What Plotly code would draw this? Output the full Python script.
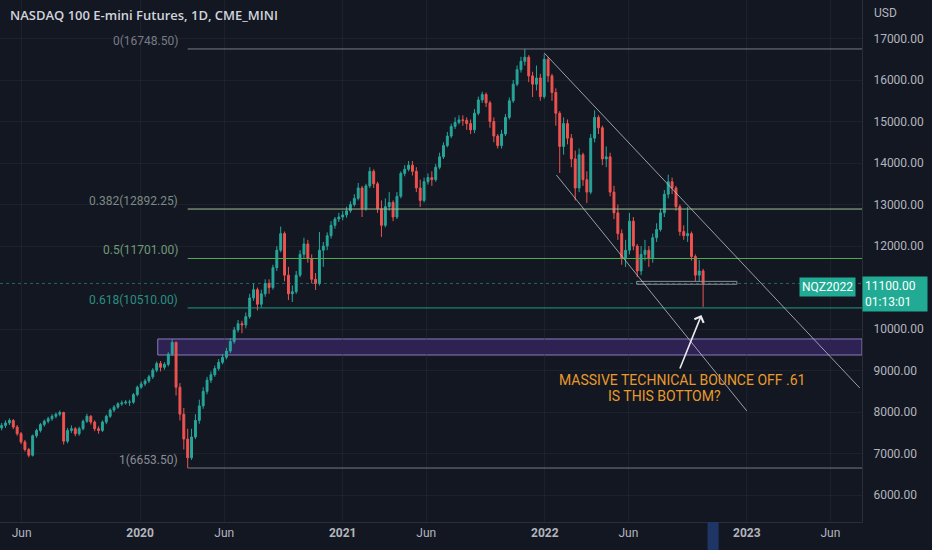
import pandas as pd
import plotly.graph_objects as go

# weekly bars (NQ continuous, CME_MINI)
first_open = 7620
closes = [
    7680, 7740, 7800, 7640, 7480, 7280, 7100, 6960, 7430, 7560,
    7700, 7780, 7840, 7900, 7950, 7990, 7300, 7560, 7600, 7480,
    7600, 7780, 7900, 7760, 7600, 7560, 7760, 7900, 8050, 8120,
    8200, 8220, 8240, 8240, 8420, 8600, 8680, 8750, 8850, 9010,
    9170, 9080, 9150, 9400, 9680, 8600, 7950, 7350, 6900, 7400,
    7800, 8150, 8500, 8770, 8900, 9050, 9200, 9320, 9470, 9700,
    9980, 10130, 10100, 10300, 10750, 10950, 10600, 10850, 11100, 11000,
    11480, 11900, 12300, 11300, 10850, 10900, 11300, 11800, 12050, 11700,
    11200, 11100, 11900, 12000, 12250, 12500, 12650, 12700, 12750, 12850,
    13000, 13150, 13400, 12900, 13450, 13800, 13500, 12900, 12500, 12950,
    13050, 12700, 13200, 13750, 13850, 13950, 13800, 13400, 13100, 13550,
    13650, 13600, 13900, 14150, 14420, 14650, 14880, 14980, 15040, 15030,
    14950, 14800, 15200, 15520, 15650, 15450, 15000, 14650, 14420, 14700,
    15100, 15500, 15900, 16250, 16450, 16550, 16100, 15900, 16050, 15600,
    16500, 16100, 15700, 15200, 14400, 14950, 14600, 14100, 13400, 14200,
    13600, 13300, 14600, 15100, 14850, 14100, 14150, 13300, 12800, 12300,
    11700, 11900, 12600, 12000, 11400, 11800, 11900, 11700, 12200, 12400,
    12800, 13250, 13550, 13400, 12950, 12350, 12250, 12300, 11750, 11300,
    11400, 11100,
]
highs = [
    7740, 7800, 7850, 7830, 7690, 7520, 7330, 7140, 7460, 7600,
    7740, 7820, 7890, 7950, 7990, 8040, 8010, 7620, 7680, 7640,
    7650, 7820, 7960, 7930, 7800, 7660, 7800, 7940, 8090, 8170,
    8240, 8280, 8290, 8300, 8460, 8640, 8740, 8800, 8900, 9060,
    9220, 9230, 9200, 9440, 9760, 9700, 8700, 8100, 7600, 7600,
    7950, 8300, 8600, 8850, 8980, 9120, 9280, 9400, 9550, 9780,
    10050, 10220, 10200, 10400, 10850, 11100, 11000, 10950, 11200, 11200,
    11550, 12000, 12470, 12350, 11500, 11050, 11400, 11900, 12200, 12150,
    11800, 11350, 12340, 12100, 12330, 12600, 12700, 12800, 12850, 12950,
    13080, 13250, 13520, 13450, 13500, 13900, 13850, 13550, 13100, 13150,
    13300, 13100, 13300, 13800, 13950, 14050, 14050, 13900, 13600, 13650,
    13750, 13800, 13980, 14250, 14500, 14750, 14950, 15100, 15150, 15150,
    15100, 15050, 15300, 15600, 15720, 15700, 15500, 15100, 14700, 14800,
    15180, 15580, 16000, 16350, 16560, 16748.5, 16600, 16200, 16350, 16150,
    16620, 16550, 16150, 15800, 15250, 15100, 15050, 14700, 14300, 14350,
    14250, 13800, 14700, 15270, 15150, 14900, 14400, 14250, 13450, 13000,
    12400, 12150, 12800, 12700, 12050, 12000, 12150, 12000, 12300, 12550,
    12900, 13350, 13720, 13650, 13450, 13000, 12500, 12942, 12350, 11800,
    11666, 11450,
]
lows = [
    7560, 7620, 7690, 7590, 7430, 7230, 7050, 6910, 6930, 7380,
    7510, 7650, 7730, 7790, 7850, 7900, 7220, 7250, 7500, 7420,
    7430, 7560, 7740, 7700, 7540, 7480, 7520, 7710, 7860, 8000,
    8080, 8150, 8180, 8150, 8200, 8380, 8560, 8630, 8700, 8800,
    8960, 8980, 9020, 9100, 9350, 8400, 7800, 7100, 6653.5, 6850,
    7350, 7720, 8080, 8430, 8700, 8850, 9000, 9150, 9270, 9420,
    9650, 9920, 9900, 10020, 10250, 10680, 10450, 10520, 10780, 10850,
    10950, 11400, 11850, 11150, 10700, 10654, 10850, 11250, 11700, 11600,
    11100, 10943, 11050, 11500, 11900, 12180, 12420, 12580, 12620, 12680,
    12800, 12950, 13100, 12700, 12850, 13400, 13400, 12800, 12220, 12450,
    12850, 12600, 12650, 13150, 13680, 13800, 13700, 13300, 12942, 13050,
    13480, 13450, 13550, 13850, 14100, 14380, 14600, 14820, 14930, 14900,
    14800, 14700, 14720, 15150, 15450, 15350, 14850, 14500, 14350, 14350,
    14650, 15050, 15450, 15850, 16180, 16350, 15950, 15590, 15750, 15500,
    15550, 15950, 15500, 14900, 13761, 14200, 14450, 13900, 13100, 13300,
    13450, 13039, 13250, 14500, 14700, 13950, 13900, 13200, 12650, 12150,
    11550, 11497, 11800, 11900, 11256, 11300, 11650, 11497, 11600, 12100,
    12350, 12700, 13150, 13250, 12850, 12250, 12150, 12100, 11650, 11150,
    11150, 10534,
]
opens = [first_open] + closes[:-1]
dates = pd.date_range("2019-04-26", periods=len(closes), freq="7D")

# fibonacci retracement levels (from the drawing)
fib_levels = [16748.5, 12892.25, 11701.0, 10510.0, 6653.5]
fib_names = ["0(16748.50)", "0.382(12892.25)", "0.5(11701.00)", "0.618(10510.00)", "1(6653.50)"]
fib_line_colors = ["#787b86", "#9fbf98", "#4caf50", "#1f9c86", "#787b86"]
fib_text_colors = ["#787b86", "#7d8a86", "#6f9a78", "#2b8f80", "#8a8d96"]

last_price = 11100.00
timer = "01:13:01"

x_ticks = ["2019-06-01", "2020-01-01", "2020-06-01", "2021-01-01", "2021-06-01",
           "2022-01-01", "2022-06-01", "2023-01-01", "2023-06-01"]
x_labels = ["Jun", "<b>2020</b>", "Jun", "<b>2021</b>", "Jun", "<b>2022</b>", "Jun", "<b>2023</b>", "Jun"]
# 11000 sits under the last price label
y_ticks = [6000, 7000, 8000, 9000, 10000, 12000, 13000, 14000, 15000, 16000, 17000]

BG = "#131722"
UP, DOWN = "#26a69a", "#ef5350"
TEAL = "#22ab94"

fig = go.Figure(go.Candlestick(
    x=dates, open=opens, high=highs, low=lows, close=closes,
    increasing=dict(line=dict(color=UP, width=1), fillcolor=UP),
    decreasing=dict(line=dict(color=DOWN, width=1), fillcolor=DOWN),
    whiskerwidth=0, showlegend=False, hoverinfo="skip",
))

fib_start = "2020-03-27"
for lvl, name, lc, tc in zip(fib_levels, fib_names, fib_line_colors, fib_text_colors):
    fig.add_shape(type="line", xref="x", yref="y", x0=fib_start, x1="2023-07-28",
                  y0=lvl, y1=lvl, line=dict(color=lc, width=1))
    fig.add_annotation(x=fib_start, y=lvl, xref="x", yref="y", text=name, showarrow=False,
                       xanchor="right", yanchor="middle", xshift=-8, yshift=8,
                       font=dict(color=tc, size=12, family="Roboto"))

# supply zone box
fig.add_shape(type="rect", xref="x", yref="y", x0="2020-02-02", x1="2023-07-28",
              y0=9376, y1=9762, fillcolor="rgba(103,58,183,0.32)",
              line=dict(color="#8c7bc0", width=1), layer="below")

# last price dotted line
fig.add_shape(type="line", xref="paper", yref="y", x0=0, x1=1, y0=last_price, y1=last_price,
              line=dict(color="rgba(38,166,154,0.55)", width=1, dash="dot"))

# small horizontal range box
fig.add_shape(type="rect", xref="x", yref="y", x0="2022-06-16", x1="2022-12-14",
              y0=11080, y1=11150, line=dict(color="#8a8d96", width=1))

# down channel lines
fig.add_shape(type="line", xref="x", yref="y", x0="2021-12-31", y0=16652, x1="2023-07-24", y1=8581,
              line=dict(color="rgba(200,203,212,0.75)", width=1))
fig.add_shape(type="line", xref="x", yref="y", x0="2022-01-22", y0=13712, x1="2023-01-01", y1=8027,
              line=dict(color="rgba(200,203,212,0.75)", width=1))

# arrow + comment
fig.add_annotation(x="2022-10-11", y=10340, ax="2022-09-01", ay=9015, xref="x", yref="y",
                   axref="x", ayref="y", text="", showarrow=True, arrowhead=4,
                   arrowsize=1.2, arrowwidth=1.6, arrowcolor="#e8e9ec")
fig.add_annotation(x="2022-09-05", y=9015, xref="x", yref="y", yshift=-10,
                   text="MASSIVE TECHNICAL BOUNCE OFF .61", showarrow=False,
                   font=dict(color="#e89a2c", size=14, family="Roboto"), xanchor="center")
fig.add_annotation(x="2022-08-05", y=9015, xref="x", yref="y", yshift=-26,
                   text="IS THIS BOTTOM?", showarrow=False,
                   font=dict(color="#e89a2c", size=14, family="Roboto"), xanchor="center")

# symbol + last price labels
fig.add_annotation(x=856 / 862, y=last_price, xref="paper", yref="y", text="NQZ2022",
                   showarrow=False, xanchor="right", yanchor="top", yshift=6,
                   bgcolor=TEAL, borderpad=2, font=dict(color="white", size=12, family="Roboto"))
fig.add_annotation(x=1.0, y=last_price, xref="paper", yref="y",
                   text=f"{last_price:.2f}<br>{timer}", showarrow=False, align="left",
                   xanchor="left", yanchor="top", yshift=7, width=60,
                   bgcolor=TEAL, borderpad=2, font=dict(color="white", size=12, family="Roboto"))

# current bar marker on time scale
fig.add_shape(type="rect", xref="x", yref="paper", x0="2022-10-22", x1="2022-11-11",
              y0=-0.055, y1=0, fillcolor="#1f3566", line=dict(width=0))

fig.add_annotation(x=8 / 862, y=1 - 15 / 522, xref="paper", yref="paper",
                   text="NASDAQ 100 E-mini Futures, 1D, CME_MINI", showarrow=False,
                   xanchor="left", yanchor="middle",
                   font=dict(color="#d1d4dc", size=13, family="Open Sans", weight=600))
fig.add_annotation(x=872 / 862, y=1 - 13 / 522, xref="paper", yref="paper", text="USD",
                   showarrow=False, xanchor="left", yanchor="middle",
                   font=dict(color="#b2b5be", size=12, family="Roboto"))

fig.update_layout(
    width=932, height=550,
    margin=dict(l=0, r=70, t=0, b=28),
    paper_bgcolor=BG, plot_bgcolor=BG,
    font=dict(family="Roboto", color="#b2b5be", size=12),
    xaxis=dict(
        type="date", range=["2019-04-23", "2023-07-28"], rangeslider=dict(visible=False),
        tickvals=x_ticks, ticktext=x_labels, showgrid=True, gridcolor="rgba(42,46,57,0.45)",
        showline=True, linecolor="#2a2e39", zeroline=False, ticks="",
        tickfont=dict(color="#b2b5be", size=12),
    ),
    yaxis=dict(
        side="right", range=[5353, 17928], tickvals=y_ticks, tickformat=".2f",
        showgrid=True, gridcolor="rgba(42,46,57,0.45)", zeroline=False,
        showline=True, linecolor="#2a2e39", ticks="", ticklabelstandoff=8,
        tickfont=dict(color="#b2b5be", size=12),
    ),
    hovermode=False,
)

# drop the default page margin so the chart fills the window like the screenshot
fig.write_html("out.html", config={"displayModeBar": False},
               post_script="document.body.style.margin='0';"
                           "document.body.style.background='#131722';")
